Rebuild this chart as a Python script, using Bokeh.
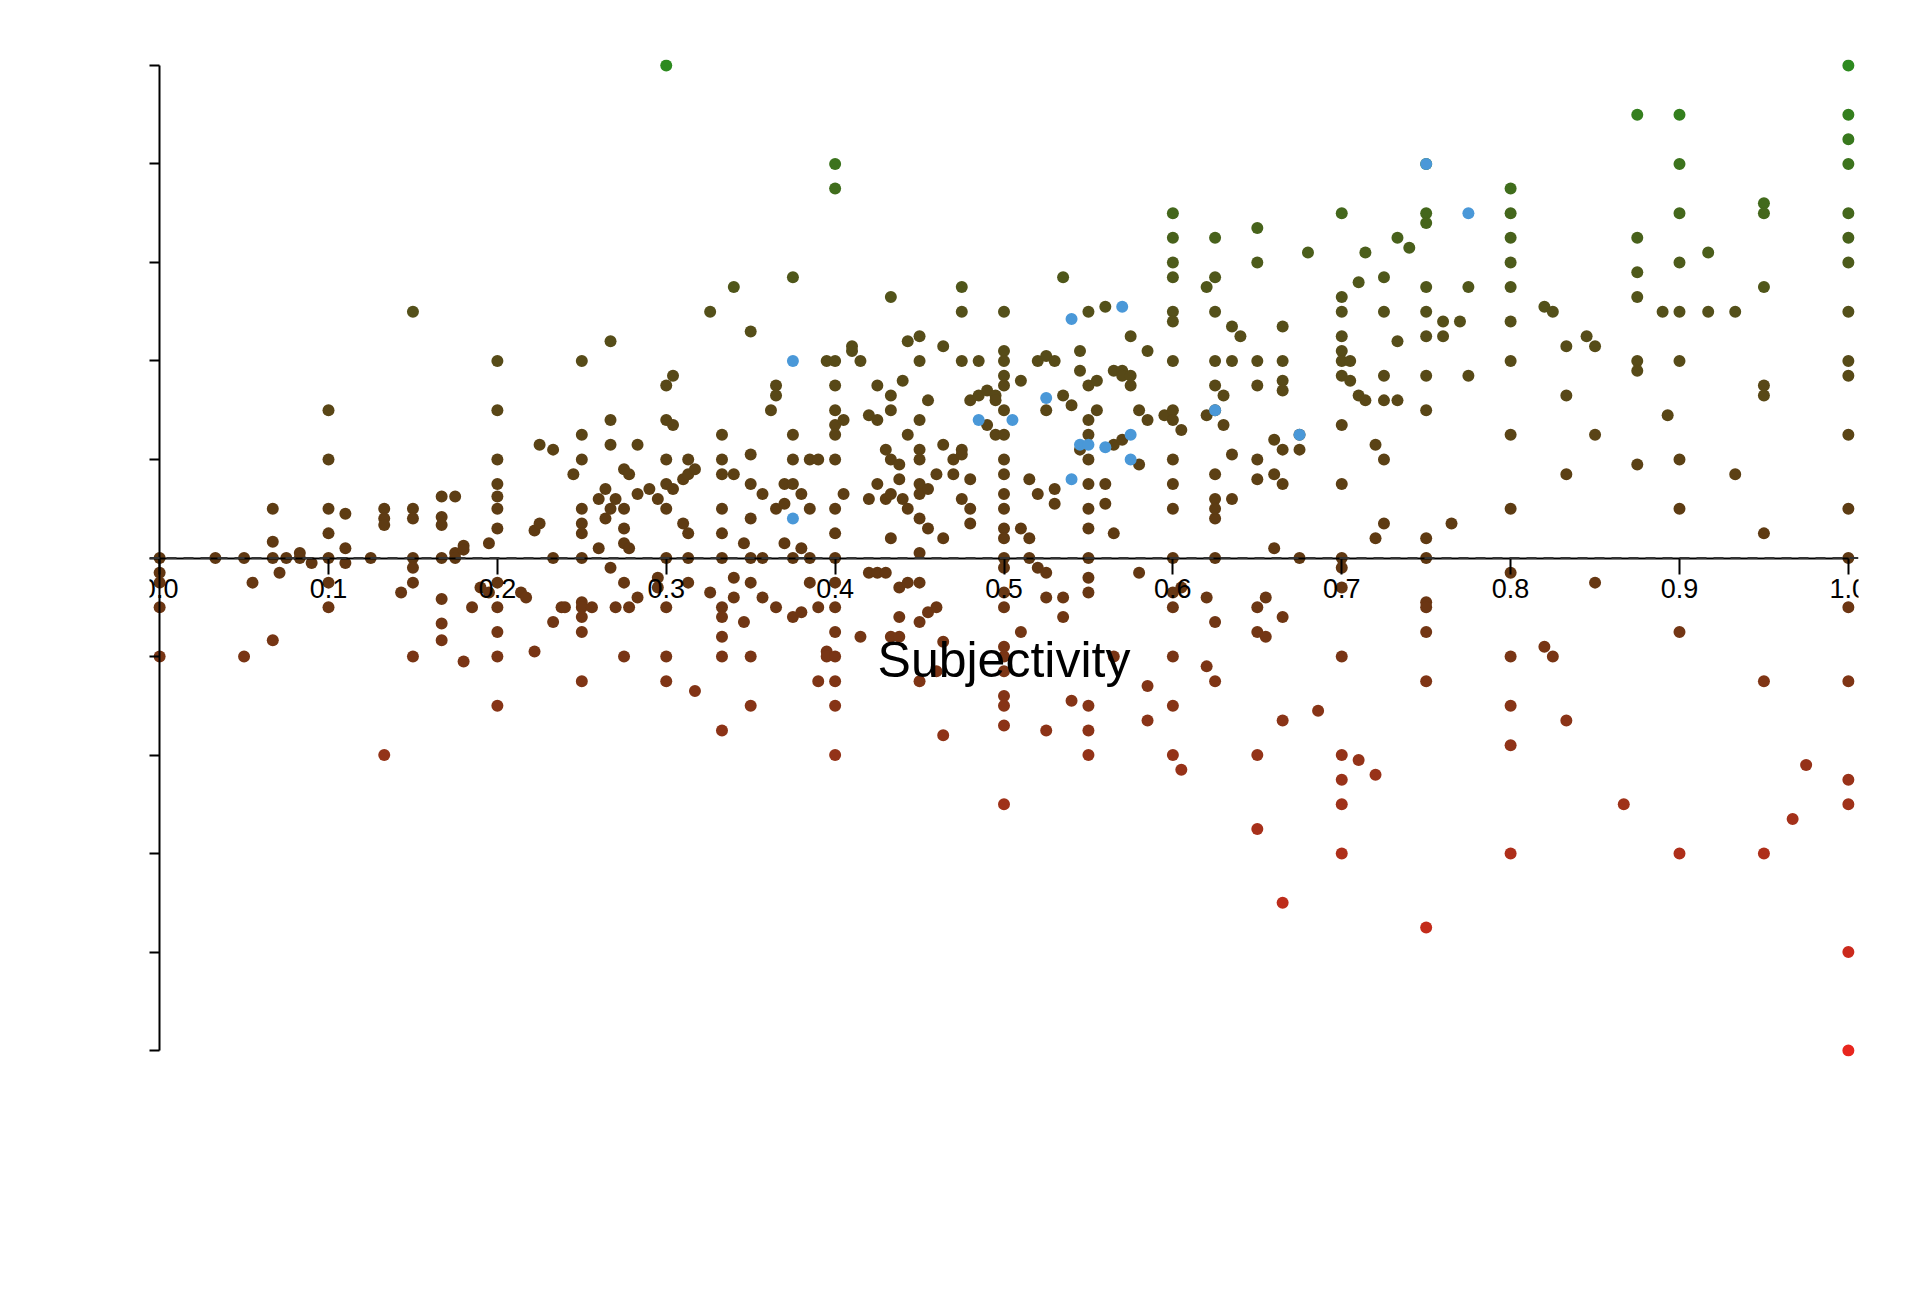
import numpy as np
from bokeh.embed import file_html
from bokeh.models import (ColumnDataSource, LinearColorMapper, Span, FixedTicker,
                          PrintfTickFormatter)
from bokeh.plotting import figure
from bokeh.resources import INLINE

# subjectivity value of each column of dots, and the polarity values in it
col_x = [
    0.0, 0.033, 0.05, 0.055, 0.067, 0.071, 0.075, 0.083, 0.09, 0.1, 0.11, 0.125,
    0.133, 0.143, 0.15, 0.167, 0.175, 0.18, 0.185, 0.19, 0.195, 0.2, 0.214, 0.217,
    0.222, 0.225, 0.233, 0.238, 0.24, 0.245, 0.25, 0.256, 0.26, 0.264, 0.267, 0.27,
    0.275, 0.278, 0.283, 0.29, 0.295, 0.3, 0.304, 0.31, 0.313, 0.317, 0.326, 0.333,
    0.34, 0.346, 0.35, 0.357, 0.362, 0.365, 0.37, 0.375, 0.38, 0.385, 0.39, 0.395,
    0.4, 0.405, 0.41, 0.415, 0.42, 0.425, 0.43, 0.433, 0.438, 0.44, 0.443, 0.45,
    0.455, 0.46, 0.464, 0.47, 0.475, 0.48, 0.485, 0.49, 0.495, 0.5, 0.51, 0.515,
    0.52, 0.525, 0.53, 0.535, 0.54, 0.545, 0.55, 0.555, 0.56, 0.565, 0.57, 0.575,
    0.58, 0.585, 0.595, 0.6, 0.605, 0.62, 0.625, 0.63, 0.635, 0.64, 0.65, 0.655,
    0.66, 0.665, 0.675, 0.68, 0.686, 0.7, 0.705, 0.71, 0.714, 0.72, 0.725, 0.733,
    0.74, 0.75, 0.76, 0.765, 0.77, 0.775, 0.8, 0.82, 0.825, 0.833, 0.845, 0.85,
    0.867, 0.875, 0.89, 0.893, 0.9, 0.917, 0.933, 0.95, 0.967, 0.975, 1.0,
]
col_y = [
    [0, -0.03, -0.05, -0.1, -0.2], [0], [0, -0.2], [-0.05], [0.1, 0.033, 0, -0.167],
    [-0.03], [0], [0.01, 0], [-0.01], [0.3, 0.2, 0.1, 0.05, 0, -0.05, -0.1],
    [0.09, 0.02, -0.01], [0], [0.1, 0.08, 0.067, -0.4], [-0.07],
    [0.5, 0.1, 0.08, 0, -0.02, -0.05, -0.2],
    [0.125, 0.083, 0.067, 0, -0.083, -0.133, -0.167], [0.125, 0.01, 0],
    [0.025, 0.017, -0.21], [-0.1], [-0.06], [0.03, -0.07],
    [0.4, 0.3, 0.2, 0.15, 0.125, 0.1, 0.06, -0.05, -0.1, -0.15, -0.2, -0.3],
    [-0.07], [-0.08], [0.056, -0.19], [0.23, 0.07], [0.22, 0, -0.13], [-0.1], [-0.1],
    [0.17], [0.4, 0.25, 0.2, 0.1, 0.07, 0.05, 0, -0.09, -0.1, -0.12, -0.15, -0.25],
    [-0.1], [0.12, 0.02], [0.14, 0.08], [0.44, 0.28, 0.23, 0.1, -0.02], [0.12, -0.1],
    [0.18, 0.1, 0.06, 0.03, -0.05, -0.2], [0.17, 0.02, -0.1], [0.23, 0.13, -0.08],
    [0.14], [0.12, -0.06, -0.04],
    [1.0, 0.35, 0.28, 0.2, 0.15, 0.1, 0, -0.1, -0.2, -0.25], [0.37, 0.27, 0.14],
    [0.16, 0.07], [0.2, 0.17, 0.05, 0, -0.05], [0.18, -0.27], [0.5, -0.07],
    [0.25, 0.2, 0.17, 0.1, 0.05, 0, -0.1, -0.12, -0.16, -0.2, -0.35],
    [0.55, 0.17, -0.04, -0.08], [0.03, -0.13],
    [0.46, 0.21, 0.15, 0.08, 0, -0.05, -0.2, -0.3], [0.13, 0, -0.08], [0.3],
    [0.35, 0.33, 0.1, -0.1], [0.15, 0.11, 0.03], [0.57, 0.25, 0.2, 0.15, 0, -0.12],
    [0.13, 0.02, -0.11], [0.2, 0.1, 0, -0.05], [0.2, -0.1, -0.25], [0.4, -0.19, -0.2],
    [0.8, 0.75, 0.4, 0.35, 0.3, 0.27, 0.25, 0.2, 0.1, 0.05, 0, -0.05, -0.1, -0.15,
     -0.2, -0.25, -0.3, -0.4],
    [0.28, 0.13], [0.42, 0.43], [0.4, -0.16], [0.29, 0.12, -0.03],
    [0.35, 0.28, 0.15, -0.03], [0.22, 0.12, -0.03],
    [0.53, 0.33, 0.3, 0.2, 0.13, 0.04, -0.16], [0.19, 0.16, -0.12, -0.06, -0.16],
    [0.36, 0.12], [0.44, 0.25, 0.1, -0.05],
    [0.45, 0.4, 0.28, 0.22, 0.2, 0.15, 0.13, 0.08, 0.01, -0.05, -0.13, -0.25],
    [0.32, 0.14, 0.06, -0.11], [0.17, -0.1, -0.23], [0.43, 0.23, 0.04, -0.17, -0.36],
    [0.2, 0.17], [0.55, 0.5, 0.4, 0.22, 0.21, 0.12], [0.32, 0.16, 0.1, 0.07],
    [0.4, 0.33], [0.34, 0.27], [0.33, 0.32, 0.25],
    [0.5, 0.42, 0.4, 0.37, 0.35, 0.3, 0.25, 0.2, 0.17, 0.13, 0.1, 0.06, 0.04, 0,
     -0.02, -0.07, -0.1, -0.18, -0.2, -0.23, -0.28, -0.3, -0.34, -0.5],
    [0.36, 0.06, -0.15], [0.16, 0.04, 0], [0.4, 0.13, -0.02],
    [0.41, 0.3, -0.03, -0.08, -0.35], [0.4, 0.11, 0.14], [0.57, 0.33, -0.08, -0.12],
    [0.31, -0.29], [0.42, 0.38, 0.22],
    [0.5, 0.35, 0.28, 0.25, 0.2, 0.15, 0.1, 0.06, 0, -0.04, -0.07, -0.3, -0.35, -0.4],
    [0.36, 0.3], [0.51, 0.15, 0.11], [0.38, 0.23, 0.05, -0.2], [0.38, 0.37, 0.24],
    [0.45, 0.37, 0.35], [0.3, 0.19, -0.03], [0.42, 0.28, -0.33, -0.26], [0.29],
    [0.7, 0.65, 0.6, 0.57, 0.5, 0.48, 0.4, 0.3, 0.28, 0.2, 0.15, 0.1, 0, -0.07, -0.1,
     -0.2, -0.3, -0.4],
    [0.26, -0.06, -0.43], [0.55, 0.29, -0.08, -0.22],
    [0.65, 0.57, 0.5, 0.4, 0.35, 0.3, 0.17, 0.12, 0.08, 0.1, 0, -0.13, -0.25],
    [0.33, 0.27], [0.47, 0.4, 0.21, 0.12], [0.45],
    [0.67, 0.6, 0.4, 0.35, 0.2, 0.16, -0.1, -0.15, -0.4, -0.55], [-0.08, -0.16],
    [0.24, 0.02, 0.17], [0.47, 0.4, 0.36, 0.34, 0.22, 0.15, -0.12, -0.33, -0.7],
    [0.25, 0.22, 0], [0.62], [-0.31],
    [0.7, 0.53, 0.5, 0.45, 0.42, 0.4, 0.37, 0.27, 0.15, 0, -0.02, -0.06, -0.2, -0.4,
     -0.45, -0.5, -0.6],
    [0.36, 0.4], [0.56, 0.33, -0.41], [0.62, 0.32], [0.23, 0.04, -0.44],
    [0.57, 0.5, 0.37, 0.32, 0.2, 0.07], [0.65, 0.44, 0.32], [0.63],
    [0.8, 0.7, 0.68, 0.55, 0.5, 0.45, 0.37, 0.3, 0.04, 0, -0.09, -0.1, -0.15, -0.25,
     -0.75],
    [0.48, 0.45], [0.07], [0.48], [0.55, 0.37],
    [0.75, 0.7, 0.65, 0.6, 0.55, 0.48, 0.4, 0.25, 0.1, -0.03, -0.2, -0.3, -0.38, -0.6],
    [0.51, -0.18], [0.5, -0.2], [0.43, 0.33, 0.17, -0.33], [0.45], [0.43, 0.25, -0.05],
    [-0.5], [0.9, 0.65, 0.58, 0.53, 0.4, 0.38, 0.19], [0.5], [0.29],
    [0.9, 0.8, 0.7, 0.6, 0.5, 0.4, 0.2, 0.1, -0.15, -0.6], [0.62, 0.5], [0.5, 0.17],
    [0.72, 0.7, 0.55, 0.35, 0.33, 0.05, -0.25, -0.6], [-0.53], [-0.42],
    [1.0, 0.9, 0.85, 0.8, 0.7, 0.65, 0.6, 0.5, 0.4, 0.37, 0.25, 0.1, 0, -0.1, -0.25,
     -0.45, -0.5, -0.8, -1.0],
]

# highlighted (blue) points
blue_x = [0.375, 0.375, 0.485, 0.505, 0.525, 0.54, 0.54, 0.545, 0.55, 0.56, 0.57,
          0.575, 0.575, 0.625, 0.675, 0.75, 0.775]
blue_y = [0.4, 0.08, 0.28, 0.28, 0.325, 0.485, 0.16, 0.23, 0.23, 0.225, 0.51,
          0.25, 0.2, 0.3, 0.25, 0.8, 0.7]

y_ticks = [-1.0, -0.8, -0.6, -0.4, -0.2, 0.0, 0.2, 0.4, 0.6, 0.8, 1.0]
x_ticks = [0.0, 0.1, 0.2, 0.3, 0.4, 0.5, 0.6, 0.7, 0.8, 0.9, 1.0]

xs, ys = [], []
for cx, cys in zip(col_x, col_y):
    for cy in cys:
        xs.append(cx)
        ys.append(cy)

# red -> brown -> green palette
stops = np.array([[232, 38, 30], [160, 50, 26], [96, 56, 18], [85, 80, 26], [45, 138, 31]])
pos = np.linspace(0, 1, len(stops))
t = np.linspace(0, 1, 256)
palette = ["#%02x%02x%02x" % tuple(int(np.interp(v, pos, stops[:, k])) for k in range(3))
           for v in t]
mapper = LinearColorMapper(palette=palette, low=-1, high=1)

font = "Liberation Sans"
# ranges are padded a little so edge dots are not clipped; axes keep 0..1 / -1..1
p = figure(
    frame_width=1709, frame_height=997,
    min_border_left=149, min_border_top=59, min_border_right=32, min_border_bottom=200,
    x_range=(-0.006, 1.006), y_range=(-1.012, 1.012),
    output_backend="svg", toolbar_location=None,
)
p.outline_line_color = None
p.grid.grid_line_color = None

p.add_layout(Span(location=0, dimension="width", line_color="#333333",
                  line_dash="10 7", line_width=2))

src = ColumnDataSource(dict(x=xs, y=ys))
p.scatter("x", "y", source=src, size=12, line_color=None,
          fill_color={"field": "y", "transform": mapper})
p.scatter(blue_x, blue_y, size=12, line_color=None, fill_color="#4a98d8")

p.xaxis.ticker = FixedTicker(ticks=x_ticks)
p.yaxis.ticker = FixedTicker(ticks=y_ticks)
p.xaxis.bounds = (0, 1)
p.yaxis.bounds = (-1, 1)
p.xaxis.fixed_location = 0
p.yaxis.fixed_location = 0
for ax in (p.xaxis, p.yaxis):
    ax.formatter = PrintfTickFormatter(format="%.1f")
    ax.minor_tick_line_color = None
    ax.major_tick_out = 16
    ax.major_tick_in = 0
    ax.axis_line_width = 2
    ax.major_tick_line_width = 2
    ax.major_label_text_font = font
    ax.major_label_text_font_size = "27px"
    ax.major_label_text_color = "black"
    ax.axis_label_text_font = font
    ax.axis_label_text_font_size = "50px"
    ax.axis_label_text_font_style = "normal"
    ax.axis_label_text_color = "black"
p.xaxis.axis_label = "Subjectivity"
p.yaxis.axis_label = "Polarity"
p.xaxis.axis_label_standoff = 30
p.yaxis.axis_label_standoff = 10

open("out.html", "w").write(file_html(p, INLINE))
